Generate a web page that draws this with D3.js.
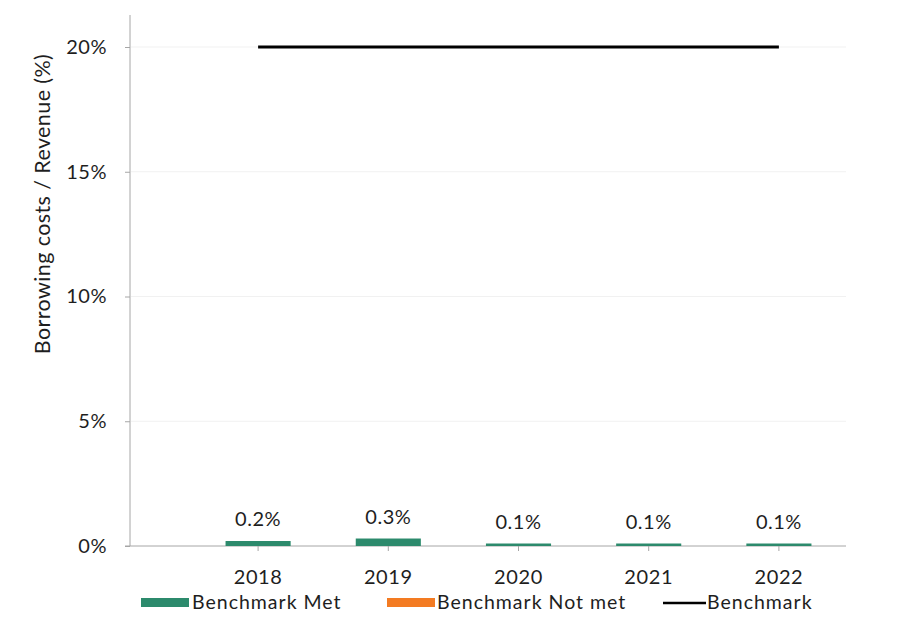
<!DOCTYPE html>
<html>
<head>
<meta charset="utf-8">
<script src="https://cdn.jsdelivr.net/npm/d3@7"></script>
<style>
  html, body { margin: 0; padding: 0; background: #ffffff; }
  svg { display: block; font-family: Lato, "Open Sans", sans-serif; }
</style>
</head>
<body>
<svg id="chart" width="921" height="641"></svg>
<script>
// Borrowing costs as a share of revenue, by year
const years = ["2018", "2019", "2020", "2021", "2022"];
const ratioValues = [0.2, 0.3, 0.1, 0.1, 0.1];        // %
const ratioLabels = ["0.2%", "0.3%", "0.1%", "0.1%", "0.1%"];
const benchmarkValues = [20, 20, 20, 20, 20];          // % ceiling
const metFlags = [true, true, true, true, true];
const yTicks = [0, 5, 10, 15, 20];
const legendItems = ["Benchmark Met", "Benchmark Not met", "Benchmark"];

const colorMet = "#2c8a6c";
const colorNotMet = "#f37b22";
const textColor = "#1e1e1e";
const font = "Lato, 'Open Sans', sans-serif";

const svg = d3.select("#chart");

const x = d3.scaleBand().domain(years).range([193, 844]).paddingInner(0.5).paddingOuter(0.25);
const y = d3.scaleLinear().domain([0, 20]).range([546, 47]);

// light horizontal guides
svg.append("g")
  .selectAll("line")
  .data(yTicks.filter(d => d > 0))
  .join("line")
  .attr("x1", 131).attr("x2", 846)
  .attr("y1", d => y(d)).attr("y2", d => y(d))
  .attr("stroke", "#f1f1f1").attr("stroke-width", 1);

// y axis
const yAxis = svg.append("g")
  .attr("transform", "translate(130,0)")
  .call(d3.axisLeft(y).tickValues(yTicks).tickFormat(d => d + "%").tickSize(5).tickPadding(18));
yAxis.select(".domain").attr("d", `M-5,${y(0)}H0V15`).attr("stroke", "#a6a6a6");
yAxis.selectAll(".tick line").attr("stroke", "#a6a6a6");
yAxis.selectAll(".tick text")
  .attr("fill", textColor).attr("font-size", 20).attr("letter-spacing", 0.5)
  .attr("font-family", font);

// x axis
const xAxis = svg.append("g")
  .attr("transform", `translate(0,${y(0)})`)
  .call(d3.axisBottom(x).tickSize(5).tickPadding(19));
xAxis.select(".domain").attr("d", "M130,0H846").attr("stroke", "#a6a6a6");
xAxis.selectAll(".tick line").attr("stroke", "#a6a6a6");
xAxis.selectAll(".tick text")
  .attr("fill", textColor).attr("font-size", 20).attr("letter-spacing", 0.6)
  .attr("font-family", font);

// bars
const rows = years.map((yr, i) => ({ yr, v: ratioValues[i], label: ratioLabels[i], met: metFlags[i], b: benchmarkValues[i] }));
svg.append("g")
  .selectAll("rect")
  .data(rows)
  .join("rect")
  .attr("x", d => x(d.yr))
  .attr("width", x.bandwidth())
  .attr("y", d => y(d.v))
  .attr("height", d => y(0) - y(d.v))
  .attr("fill", d => d.met ? colorMet : colorNotMet);

// value labels
svg.append("g")
  .selectAll("text")
  .data(rows)
  .join("text")
  .attr("x", d => x(d.yr) + x.bandwidth() / 2)
  .attr("y", d => y(d.v) - 15)
  .attr("text-anchor", "middle")
  .attr("font-size", 20)
  .attr("letter-spacing", 0.5)
  .attr("fill", textColor)
  .text(d => d.label);

// benchmark line
svg.append("path")
  .datum(rows)
  .attr("fill", "none")
  .attr("stroke", "#000")
  .attr("stroke-width", 3)
  .attr("d", d3.line().x(d => x(d.yr) + x.bandwidth() / 2).y(d => y(d.b)));

// y axis title
svg.append("text")
  .attr("transform", `translate(50,${(52 + 356) / 2}) rotate(-90)`)
  .attr("text-anchor", "middle")
  .attr("font-size", 21.5)
  .attr("letter-spacing", 0.4)
  .attr("fill", textColor)
  .text("Borrowing costs / Revenue (%)");

// legend
const legend = svg.append("g").attr("transform", "translate(0,602)");
const g1 = legend.append("g");
g1.append("rect").attr("x", 141).attr("y", -4).attr("width", 48).attr("height", 9).attr("fill", colorMet);
g1.append("text").attr("x", 192).attr("y", 7).attr("font-size", 19.5).attr("letter-spacing", 1).attr("fill", textColor).text(legendItems[0]);
const g2 = legend.append("g");
g2.append("rect").attr("x", 387).attr("y", -4).attr("width", 48).attr("height", 9).attr("fill", colorNotMet);
g2.append("text").attr("x", 437).attr("y", 7).attr("font-size", 19.5).attr("letter-spacing", 1).attr("fill", textColor).text(legendItems[1]);
const g3 = legend.append("g");
g3.append("line").attr("x1", 663).attr("x2", 706).attr("y1", 1).attr("y2", 1).attr("stroke", "#000").attr("stroke-width", 2.5);
g3.append("text").attr("x", 707).attr("y", 7).attr("font-size", 19.5).attr("letter-spacing", 1).attr("fill", textColor).text(legendItems[2]);
</script>
</body>
</html>
